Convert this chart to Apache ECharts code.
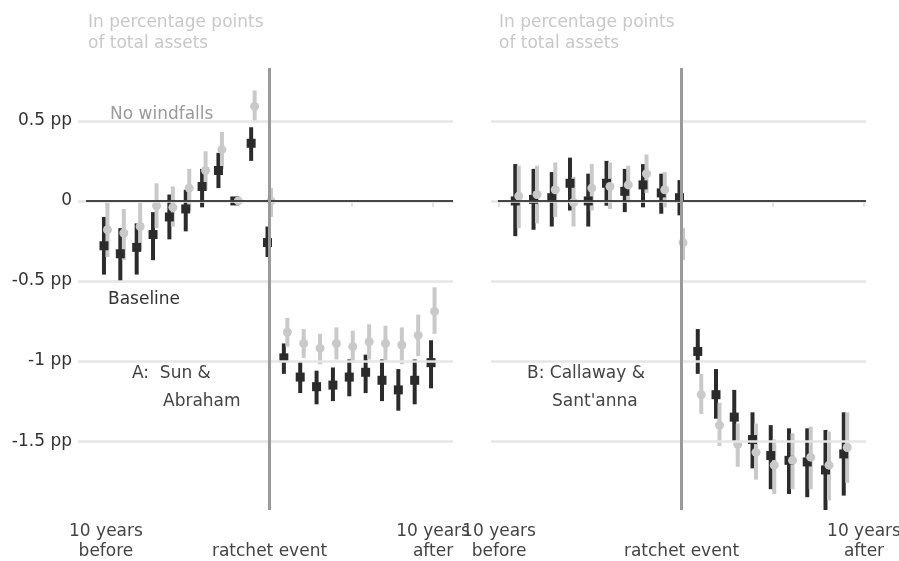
<!DOCTYPE html>
<html>
<head>
<meta charset="utf-8">
<script src="https://cdn.jsdelivr.net/npm/echarts@6/dist/echarts.min.js"></script>
<style>
  html, body { margin: 0; padding: 0; background: #fff; }
  #chart { width: 899px; height: 561px; }
</style>
</head>
<body>
<div id="chart"></div>
<script>
// years relative to the ratchet event
var yearsA = [-10,-9,-8,-7,-6,-5,-4,-3,-2,-1,0,1,2,3,4,5,6,7,8,9,10];
var yearsB = [-9,-8,-7,-6,-5,-4,-3,-2,-1,0,1,2,3,4,5,6,7,8,9];

// A: Sun & Abraham
var baseA   = [-0.28,-0.33,-0.29,-0.21,-0.10,-0.05,0.09,0.19,0,0.36,-0.26,-0.98,-1.10,-1.16,-1.15,-1.10,-1.07,-1.12,-1.18,-1.12,-1.01];
var baseALo = [-0.46,-0.50,-0.46,-0.37,-0.24,-0.19,-0.04,0.08,0,0.25,-0.35,-1.08,-1.20,-1.27,-1.25,-1.22,-1.20,-1.25,-1.31,-1.27,-1.17];
var baseAHi = [-0.10,-0.17,-0.14,-0.07,0.04,0.07,0.20,0.30,0,0.46,-0.16,-0.89,-1.00,-1.06,-1.04,-0.99,-0.96,-0.99,-1.05,-0.99,-0.87];
var noWfA   = [-0.18,-0.20,-0.16,-0.03,-0.04,0.08,0.19,0.32,0,0.59,0.00,-0.82,-0.89,-0.92,-0.89,-0.91,-0.88,-0.89,-0.90,-0.84,-0.69];
var noWfALo = [-0.35,-0.37,-0.31,-0.17,-0.16,-0.06,0.07,0.20,0,0.49,-0.10,-0.91,-0.98,-1.02,-0.99,-1.01,-0.99,-1.00,-1.02,-0.97,-0.83];
var noWfAHi = [-0.01,-0.05,-0.01,0.11,0.09,0.20,0.31,0.43,0,0.69,0.08,-0.73,-0.80,-0.83,-0.79,-0.81,-0.77,-0.78,-0.79,-0.71,-0.54];

// B: Callaway & Sant'anna
var baseB   = [0.00,0.01,0.02,0.11,0.00,0.11,0.06,0.10,0.05,0.02,-0.94,-1.21,-1.35,-1.49,-1.59,-1.62,-1.63,-1.68,-1.58];
var baseBLo = [-0.22,-0.18,-0.16,-0.06,-0.16,-0.03,-0.07,-0.04,-0.08,-0.09,-1.08,-1.36,-1.50,-1.67,-1.80,-1.83,-1.85,-1.93,-1.84];
var baseBHi = [0.23,0.20,0.18,0.27,0.17,0.25,0.20,0.23,0.17,0.13,-0.80,-1.05,-1.18,-1.32,-1.40,-1.42,-1.42,-1.43,-1.32];
var noWfB   = [0.03,0.04,0.07,-0.01,0.08,0.09,0.10,0.17,0.07,-0.26,-1.21,-1.40,-1.52,-1.57,-1.65,-1.62,-1.60,-1.65,-1.54];
var noWfBLo = [-0.17,-0.14,-0.10,-0.16,-0.06,-0.05,-0.01,0.05,-0.04,-0.37,-1.33,-1.53,-1.66,-1.74,-1.83,-1.80,-1.80,-1.87,-1.76];
var noWfBHi = [0.22,0.22,0.24,0.15,0.23,0.24,0.22,0.29,0.18,-0.17,-1.08,-1.26,-1.39,-1.39,-1.49,-1.45,-1.41,-1.44,-1.32];

var yTicks = [-1.5, -1, -0.5, 0, 0.5];
var xTicks = [-10, -5, 0, 5, 10];
var xLabelVals = [-10, 0, 10];

var DARK = "#2b2b2b";
var LIGHT = "#c9c9c9";
var FONT = "DejaVu Sans, sans-serif";

function rows(x, m, lo, hi) {
  return x.map(function (v, i) { return [v, m[i], lo[i], hi[i]]; });
}

// error bar drawn with a small pixel dodge
function barSeries(idx, data, color, dodge) {
  return {
    type: "custom",
    xAxisIndex: idx, yAxisIndex: idx,
    z: 3,
    silent: true,
    data: data,
    renderItem: function (params, api) {
      var top = api.coord([api.value(0), api.value(3)]);
      var bot = api.coord([api.value(0), api.value(2)]);
      var x = top[0] + dodge;
      return {
        type: "line",
        shape: { x1: x, y1: top[1], x2: x, y2: bot[1] },
        style: { stroke: color, lineWidth: 4 }
      };
    }
  };
}

function pointSeries(idx, data, color, dodge, square) {
  return {
    type: "custom",
    xAxisIndex: idx, yAxisIndex: idx,
    z: 4,
    silent: true,
    data: data,
    renderItem: function (params, api) {
      var p = api.coord([api.value(0), api.value(1)]);
      var x = p[0] + dodge;
      if (square) {
        return { type: "rect", shape: { x: x - 4.5, y: p[1] - 4.5, width: 9, height: 9 }, style: { fill: color } };
      }
      return { type: "circle", shape: { cx: x, cy: p[1], r: 4.5 }, style: { fill: color } };
    }
  };
}

function guides(idx, zeroStart, xMax) {
  return {
    type: "scatter",
    xAxisIndex: idx, yAxisIndex: idx,
    data: [],
    z: 1,
    markLine: {
      silent: true,
      symbol: "none",
      animation: false,
      label: { show: false },
      data: yTicks.map(function (v) {
        return { yAxis: v, lineStyle: { color: "#e6e6e6", width: 2.5, type: "solid" } };
      }).concat([
        [{ coord: [zeroStart, 0], lineStyle: { color: "#111", width: 1.6, type: "solid" } }, { coord: [xMax, 0] }],
        { xAxis: 0, lineStyle: { color: "#9a9a9a", width: 3, type: "solid" } }
      ])
    }
  };
}

function xAxis(idx, min, max) {
  return {
    type: "value", gridIndex: idx, min: min, max: max,
    axisLine: { show: false },
    splitLine: { show: false },
    axisTick: { show: true, length: 6, customValues: xTicks, lineStyle: { color: "#e3e3e3", width: 2 } },
    axisLabel: {
      customValues: xLabelVals,
      margin: 12,
      color: "#444",
      fontSize: 17,
      lineHeight: 20,
      fontFamily: FONT,
      formatter: function (v) {
        if (v === -10) return "10 years\nbefore";
        if (v === 10) return "10 years\nafter";
        if (v === 0) return "\nratchet event";
        return "";
      }
    }
  };
}

function yAxis(idx, showLabels) {
  return {
    type: "value", gridIndex: idx, min: -1.93, max: 0.83,
    axisLine: { show: false },
    axisTick: { show: false },
    splitLine: { show: false },
    axisLabel: {
      show: showLabels,
      customValues: yTicks,
      margin: 6,
      color: "#333",
      fontSize: 17,
      fontFamily: FONT,
      formatter: function (v) { return v === 0 ? "0" : v + " pp"; }
    }
  };
}

function txt(left, top, text, color) {
  return {
    type: "text", left: left, top: top, silent: true,
    style: { text: text, fill: color, font: "17px " + FONT, lineHeight: 21 }
  };
}

var chart = echarts.init(document.getElementById("chart"));
chart.setOption({
  animation: false,
  backgroundColor: "#fff",
  grid: [
    { left: 78, top: 68, width: 375, height: 442, outerBoundsMode: "none" },
    { left: 491, top: 68, width: 375, height: 442, outerBoundsMode: "none" }
  ],
  xAxis: [xAxis(0, -11.71, 11.22), xAxis(1, -10.44, 10.11)],
  yAxis: [yAxis(0, true), yAxis(1, false)],
  graphic: [
    txt(88, 12, "In percentage points\nof total assets", "#c8c8c8"),
    txt(499, 12, "In percentage points\nof total assets", "#c8c8c8"),
    txt(110, 104, "No windfalls", "#9a9a9a"),
    txt(108, 289, "Baseline", "#333"),
    txt(132, 363, "A:  Sun &", "#444"),
    txt(163, 391, "Abraham", "#444"),
    txt(527, 363, "B: Callaway &", "#444"),
    txt(552, 391, "Sant'anna", "#444")
  ],
  series: [
    guides(0, -11.22, 11.22),
    guides(1, -10.06, 10.11),
    barSeries(0, rows(yearsA, baseA, baseALo, baseAHi), DARK, -2),
    barSeries(0, rows(yearsA, noWfA, noWfALo, noWfAHi), LIGHT, 1.5),
    pointSeries(0, rows(yearsA, baseA, baseALo, baseAHi), DARK, -2, true),
    pointSeries(0, rows(yearsA, noWfA, noWfALo, noWfAHi), LIGHT, 1.5, false),
    barSeries(1, rows(yearsB, baseB, baseBLo, baseBHi), DARK, -2),
    barSeries(1, rows(yearsB, noWfB, noWfBLo, noWfBHi), LIGHT, 1.5),
    pointSeries(1, rows(yearsB, baseB, baseBLo, baseBHi), DARK, -2, true),
    pointSeries(1, rows(yearsB, noWfB, noWfBLo, noWfBHi), LIGHT, 1.5, false)
  ]
});
</script>
</body>
</html>
